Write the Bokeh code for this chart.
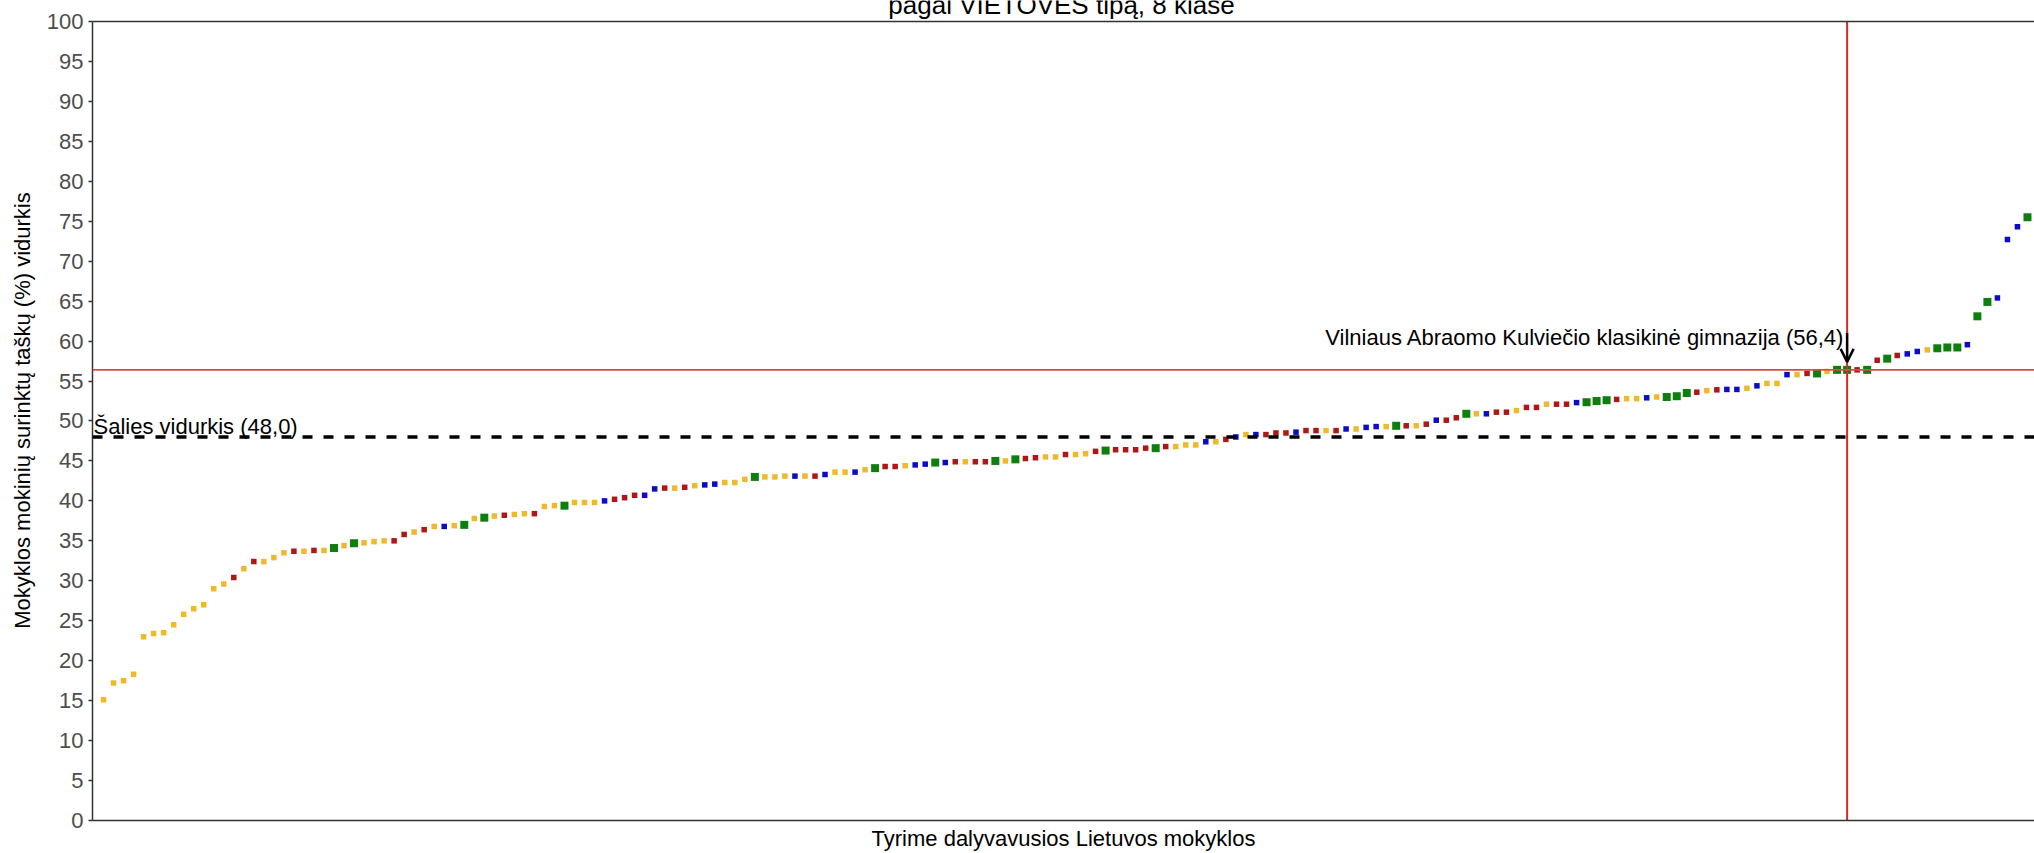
from bokeh.plotting import figure
from bokeh.models import (Span, Label, Arrow, OpenHead, FixedTicker,
                          ColumnDataSource, Range1d)
from bokeh.embed import file_html
from bokeh.resources import INLINE

# ---------------- data ----------------
title_text = "pagal VIETOVĖS tipą, 8 klasė"
y_label = "Mokyklos mokinių surinktų taškų (%) vidurkis"
x_label = "Tyrime dalyvavusios Lietuvos mokyklos"
y_ticks = list(range(0, 101, 5))
y_min, y_max = 0, 100

national_avg = 48.0
national_label = "Šalies vidurkis (48,0)"
school_index = 174
school_score = 56.4
school_label = "Vilniaus Abraomo Kulviečio klasikinė gimnazija (56,4)"

# school averages, sorted ascending
scores = [
    15.1, 17.2, 17.5, 18.3, 23.0, 23.4, 23.5, 24.5, 25.8, 26.5,
    27.0, 29.0, 29.6, 30.4, 31.5, 32.4, 32.4, 32.9, 33.5, 33.7,
    33.7, 33.8, 33.8, 34.1, 34.4, 34.7, 34.75, 34.9, 35.0, 35.0,
    35.8, 36.1, 36.4, 36.8, 36.8, 36.9, 37.0, 37.8, 37.9, 38.1,
    38.2, 38.3, 38.4, 38.4, 39.3, 39.4, 39.4, 39.8, 39.8, 39.8,
    40.0, 40.2, 40.4, 40.7, 40.7, 41.5, 41.6, 41.6, 41.7, 41.9,
    42.0, 42.1, 42.3, 42.3, 42.7, 43.0, 43.0, 43.0, 43.1, 43.1,
    43.1, 43.1, 43.3, 43.6, 43.6, 43.6, 43.9, 44.1, 44.3, 44.3,
    44.4, 44.5, 44.6, 44.8, 44.8, 44.9, 44.9, 44.9, 44.9, 45.0,
    45.0, 45.2, 45.3, 45.4, 45.5, 45.5, 45.8, 45.8, 45.9, 46.2,
    46.3, 46.4, 46.4, 46.4, 46.6, 46.6, 46.8, 46.8, 47.0, 47.0,
    47.4, 47.4, 47.7, 48.0, 48.3, 48.3, 48.3, 48.5, 48.5, 48.6,
    48.8, 48.8, 48.8, 48.8, 49.0, 49.0, 49.2, 49.3, 49.3, 49.4,
    49.4, 49.4, 49.6, 50.1, 50.1, 50.4, 50.9, 50.9, 50.9, 51.1,
    51.1, 51.3, 51.7, 51.7, 52.1, 52.1, 52.1, 52.3, 52.35, 52.5,
    52.6, 52.7, 52.8, 52.8, 52.9, 53.0, 53.0, 53.1, 53.5, 53.6,
    53.8, 53.9, 53.95, 53.95, 54.1, 54.4, 54.7, 54.7, 55.8, 55.8,
    55.95, 55.95, 56.2, 56.4, 56.4, 56.4, 56.4, 57.6, 57.8, 58.2,
    58.4, 58.7, 58.9, 59.1, 59.2, 59.2, 59.55, 63.1, 64.9, 65.4,
    72.7, 74.3, 75.5,
]

# settlement type codes: D = didmiestis, M = miestas, T = miestelis, K = kaimas
types = (
    "KKKKKKKKKK"
    "KKKTKTKKKT"
    "KTKDKDKKKT"
    "TKTKMKDKDK"
    "TKKTKKDKKK"
    "MTTTMMTKTK"
    "MMKKKDKKKM"
    "KTMKKMKDTT"
    "KMMDMTKTTD"
    "KDTTKKTKKT"
    "DTTTTDTKKK"
    "MKTMKMTTTM"
    "TTKTMKMMKD"
    "TKTMTTDKMT"
    "TKTTKTTMDD"
    "DTKKMKDDDT"
    "KTMMKMKKMK"
    "TDKDDTDTDT"
    "MMKDDDMDDM"
    "MMD"
)

type_names = {"D": "Didmiestis", "M": "Miestas", "T": "Miestelis", "K": "Kaimas"}
type_colors = {"D": "#0E7F0E", "M": "#0B0BC8", "T": "#B01616", "K": "#EEBA2C"}
type_sizes = {"D": 8, "M": 5.5, "T": 5.5, "K": 5.5}

assert len(scores) == len(types)

src = ColumnDataSource(dict(
    x=list(range(len(scores))),
    y=scores,
    kind=[type_names[t] for t in types],
    color=[type_colors[t] for t in types],
    size=[type_sizes[t] for t in types],
))

FONT = "Liberation Sans"
AX = "#333333"

# frame reaches the top of the canvas; the 0-100 panel ends 21px below it,
# leaving room for the (cut-off) title above the panel
p = figure(width=2034, height=853,
           x_range=Range1d(-1.1, 192.7), y_range=Range1d(y_min, 102.625),
           output_backend="svg", toolbar_location=None,
           min_border_left=92, min_border_right=0,
           min_border_top=0, min_border_bottom=32)
p.xgrid.visible = False
p.ygrid.visible = False
p.outline_line_color = None
p.background_fill_color = "white"
p.border_fill_color = "white"

# y axis
ya = p.yaxis[0]
ya.ticker = FixedTicker(ticks=y_ticks)
ya.bounds = (y_min, y_max)
ya.major_label_text_font = FONT
ya.major_label_text_font_size = "22px"
ya.major_label_text_color = "#4D4D4D"
ya.axis_line_color = AX
ya.axis_line_width = 1.5
ya.major_tick_line_color = AX
ya.major_tick_line_width = 1.5
ya.major_tick_out = 4
ya.major_tick_in = 0
ya.minor_tick_line_color = None
ya.major_label_standoff = 5
ya.axis_label = y_label
ya.axis_label_text_font = FONT
ya.axis_label_text_font_size = "22px"
ya.axis_label_text_font_style = "normal"
ya.axis_label_text_color = "black"
ya.axis_label_standoff = 9

# x axis
xa = p.xaxis[0]
xa.ticker = FixedTicker(ticks=[])
xa.axis_line_color = AX
xa.axis_line_width = 1.5
xa.major_tick_out = 0
xa.major_tick_in = 0
xa.minor_tick_line_color = None
xa.major_label_text_font_size = "0px"
xa.major_label_standoff = 0
xa.axis_label = x_label
xa.axis_label_text_font = FONT
xa.axis_label_text_font_size = "22px"
xa.axis_label_text_font_style = "normal"
xa.axis_label_text_color = "black"
xa.axis_label_standoff = 5

# top border line of the panel
p.add_layout(Span(location=y_max, dimension="width", line_color=AX, line_width=1.5))

# points
p.scatter(x="x", y="y", marker="square", size="size", fill_color="color",
          line_color=None, source=src)

# reference lines
p.add_layout(Span(location=national_avg, dimension="width", line_color="black",
                  line_width=3.5, line_dash="10 11"))
p.add_layout(Span(location=school_score, dimension="width", line_color="#E04848",
                  line_width=1.6))
p.segment(x0=[school_index], y0=[y_min], x1=[school_index], y1=[y_max],
          line_color="#D42A2A", line_width=2)

# annotations
p.add_layout(Label(x=-1.0, y=49.3, text=national_label, text_font=FONT,
                   text_font_size="22px", text_color="black",
                   text_align="left", text_baseline="alphabetic"))
p.add_layout(Label(x=school_index - 0.25, y=60.4, text=school_label, text_font=FONT,
                   text_font_size="22px", text_color="black",
                   text_align="right", text_baseline="alphabetic"))
p.add_layout(Arrow(end=OpenHead(size=13, line_width=2.5, line_color="black"),
                   x_start=school_index, y_start=61.0,
                   x_end=school_index, y_end=57.4,
                   line_width=2.5, line_color="black"))

# title (cut off at the top as in the original)
p.add_layout(Label(x=95.6, y=102.1, text=title_text, text_font=FONT,
                   text_font_size="26px", text_color="black", text_align="center",
                   text_baseline="alphabetic"))

open("out.html", "w").write(file_html(p, INLINE))
